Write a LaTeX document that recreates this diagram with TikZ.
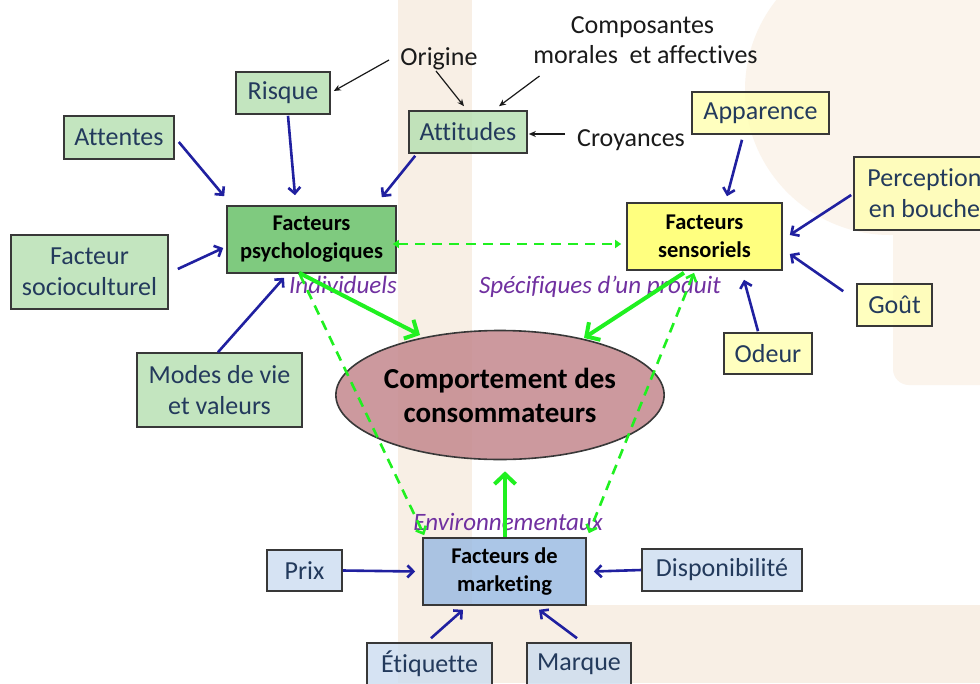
\documentclass[tikz,border=0pt]{standalone}
\usepackage{fontspec}
\setmainfont{Carlito}[Ligatures=NoCommon]
\usetikzlibrary{arrows.meta,shapes.geometric,calc}
\definecolor{beige}{RGB}{248,239,229}
\definecolor{pbeige}{RGB}{251,244,236}
\definecolor{lgreen}{RGB}{180,223,176}
\definecolor{dgreen}{RGB}{96,189,96}
\definecolor{lyellow}{RGB}{255,255,176}
\definecolor{dyellow}{RGB}{255,255,96}
\definecolor{lblue}{RGB}{204,221,240}
\definecolor{dblue}{RGB}{151,184,226}
\definecolor{rose}{RGB}{196,136,142}
\definecolor{bordc}{RGB}{56,56,56}
\definecolor{boxtext}{RGB}{35,58,92}
\definecolor{navy}{RGB}{32,32,160}
\definecolor{brgreen}{RGB}{32,240,32}
\definecolor{purp}{RGB}{112,48,160}
\definecolor{lbltext}{RGB}{26,26,26}
\tikzset{
  boxbase/.style={draw=bordc, line width=1.6pt, inner sep=0pt, align=center, fill opacity=0.8, text opacity=1},
  lg/.style={boxbase, fill=lgreen, text=boxtext, font=\fontsize{26}{31}\selectfont},
  ly/.style={boxbase, fill=lyellow, text=boxtext, font=\fontsize{26}{31}\selectfont},
  lb/.style={boxbase, fill=lblue, text=boxtext, font=\fontsize{26}{31}\selectfont},
  dg/.style={boxbase, fill=dgreen, text=black, font=\bfseries\fontsize{22.5}{28}\selectfont},
  dy/.style={boxbase, fill=dyellow, text=black, font=\bfseries\fontsize{22.5}{28}\selectfont},
  db/.style={boxbase, fill=dblue, text=black, font=\bfseries\fontsize{22.5}{28}\selectfont},
  ell/.style={ellipse, draw=bordc, line width=1.6pt, fill=rose, fill opacity=0.85, text opacity=1, inner sep=0pt, minimum width=267pt, minimum height=129pt, align=center, font=\bfseries\fontsize{29}{34}\selectfont},
  lbl/.style={anchor=base, inner sep=0pt, text=lbltext, font=\fontsize{26}{31}\selectfont},
  ital/.style={anchor=base, inner sep=0pt, text=purp, font=\itshape\fontsize{25}{30}\selectfont},
  bluearr/.style={draw=navy, line width=2.6pt, -{Straight Barb[length=6pt,width=12pt]}},
  greenarr/.style={draw=brgreen, line width=4pt, -{Straight Barb[length=10pt,width=21pt]}},
  gdash/.style={draw=brgreen, line width=2.6pt, dash pattern=on 10pt off 7pt},
  blackarr/.style={draw=lbltext, line width=1.2pt, -{Stealth[length=7pt,width=6pt]}}
}
\begin{document}
\begin{tikzpicture}[x=1pt,y=-1pt]
\useasboundingbox (0,0) rectangle (980,683);
% background
\fill[white] (0,0) rectangle (980,683);
\fill[beige] (398,0) rectangle (472,683);
\fill[beige] (398,605) rectangle (980,683);
\begin{scope}
\clip (472,0) rectangle (980,605);
\fill[pbeige] (890,90) circle[radius=145pt];
\fill[pbeige, rounded corners=16pt] (893,60) rectangle (1010,385);
\end{scope}

% nodes
\node[lg, minimum width=94pt, minimum height=42pt] (risque) at (283,93) {Risque};
\node[lg, minimum width=110pt, minimum height=43pt] (attentes) at (119,137.5) {Attentes};
\node[lg, minimum width=118pt, minimum height=42pt] (attitudes) at (468,132) {Attitudes};
\node[dg, minimum width=169pt, minimum height=67pt] (psych) at (311.5,239.5) {Facteurs\\psychologiques};
\node[lg, minimum width=157pt, minimum height=74pt] (socio) at (89.5,272) {Facteur\\socioculturel};
\node[lg, minimum width=165pt, minimum height=74pt] (modes) at (219.5,390) {Modes de vie\\et valeurs};
\node[ell] (comp) at (500,395) {Comportement des\\consommateurs};
\node[dy, minimum width=155pt, minimum height=67pt] (sens) at (704.5,236.5) {Facteurs\\sensoriels};
\node[ly, minimum width=137pt, minimum height=42pt] (apparence) at (760.5,113) {Apparence};
\node[ly, minimum width=141pt, minimum height=73pt] (perception) at (924.5,193.5) {Perception\\en bouche};
\node[ly, minimum width=75pt, minimum height=42pt] (gout) at (894.5,305) {Goût};
\node[ly, minimum width=88pt, minimum height=41pt] (odeur) at (768,353.5) {Odeur};
\node[db, minimum width=163pt, minimum height=67pt] (mark) at (504.5,571.5) {Facteurs de\\marketing};
\node[lb, minimum width=75pt, minimum height=41pt] (prix) at (304.5,570.5) {Prix};
\node[lb, minimum width=160pt, minimum height=42pt] (dispo) at (722,570) {Disponibilité};
\node[lb, minimum width=125pt, minimum height=42pt] (etiq) at (429.5,664) {Étiquette};
\node[lb, minimum width=104pt, minimum height=42pt] (marque) at (579,664) {Marque};

% labels
\node[lbl] (origine) at (439,65) {Origine};
\node[lbl] (compo1) at (642.5,33) {Composantes};
\node[lbl] (compo2) at (645.5,63) {morales\ \ et affectives};
\node[lbl] (croy) at (631,146) {Croyances};
\node[ital] (indiv) at (343,293) {Individuels};
\node[ital] (spec) at (600,293) {Spécifiques d’un produit};
\node[ital] (env) at (508,530) {Environnementaux};

% black arrows
\draw[blackarr] ($(origine.base)+(-50,-5)$) -- ($(risque.east)+(3,-2)$);
\draw[blackarr] ($(origine.base)+(-3,6)$) -- ($(attitudes.north)+(-4,-4)$);
\draw[blackarr] ($(compo2.base)+(-106,13)$) -- ($(attitudes.north)+(31,-4)$);
\draw[blackarr] ($(croy.base)+(-66,-12)$) -- ($(attitudes.east)+(1,2)$);

% blue arrows
\draw[bluearr] ($(risque.south)+(5,1)$) -- ($(psych.north)+(-16.5,-10)$);
\draw[bluearr] ($(attentes.east)+(4,4.5)$) -- ($(psych.north west)+(-2,-9)$);
\draw[bluearr] ($(attitudes.south west)+(7,2)$) -- ($(psych.north east)+(-15,-8)$);
\draw[bluearr] ($(socio.east)+(9,-3)$) -- ($(psych.west)+(-3,8.5)$);
\draw[bluearr] ($(modes.north)+(-1.5,0)$) -- ($(psych.south)+(-27.5,4)$);
\draw[bluearr] ($(apparence.south)+(-18.5,5)$) -- ($(sens.north)+(22.5,-6)$);
\draw[bluearr] ($(perception.west)+(-2,1.5)$) -- ($(sens.east)+(7,-1.5)$);
\draw[bluearr] ($(gout.north west)+(-13,8)$) -- ($(sens.east)+(7,17.5)$);
\draw[bluearr] ($(odeur.north)+(-10,-1)$) -- ($(sens.south)+(39.5,9)$);
\draw[bluearr] (prix.east) -- ($(mark.west)+(-7,0)$);
\draw[bluearr] (dispo.west) -- ($(mark.east)+(7,0)$);
\draw[bluearr] ($(etiq.north)+(1.5,-4)$) -- ($(mark.south)+(-41.5,4)$);
\draw[bluearr] ($(marque.north)+(-2,-4)$) -- ($(mark.south)+(34.5,4)$);

% green arrows
\draw[gdash, {Triangle[length=6pt,width=8pt]}-{Triangle[length=6pt,width=8pt]}] ($(psych.east)+(-4,4.5)$) -- ($(sens.west)+(-5,7.5)$);
\draw[gdash, -{Straight Barb[length=6pt,width=11pt]}] ($(psych.south)+(-11.5,1)$) -- ($(mark.north west)+(2,-2)$);
\draw[gdash, {Straight Barb[length=6pt,width=11pt]}-{Straight Barb[length=6pt,width=11pt]}] ($(sens.south)+(-10.5,2)$) -- ($(mark.north east)+(2,-4)$);
\draw[greenarr] ($(psych.south)+(-12.5,-1)$) -- ($(comp.center)+(-80,-60)$);
\draw[greenarr] ($(sens.south)+(-20.5,2)$) -- ($(comp.center)+(84,-57)$);
\draw[greenarr] ($(mark.north)+(0.5,0)$) -- ($(comp.south)+(5,11)$);
\end{tikzpicture}
\end{document}
